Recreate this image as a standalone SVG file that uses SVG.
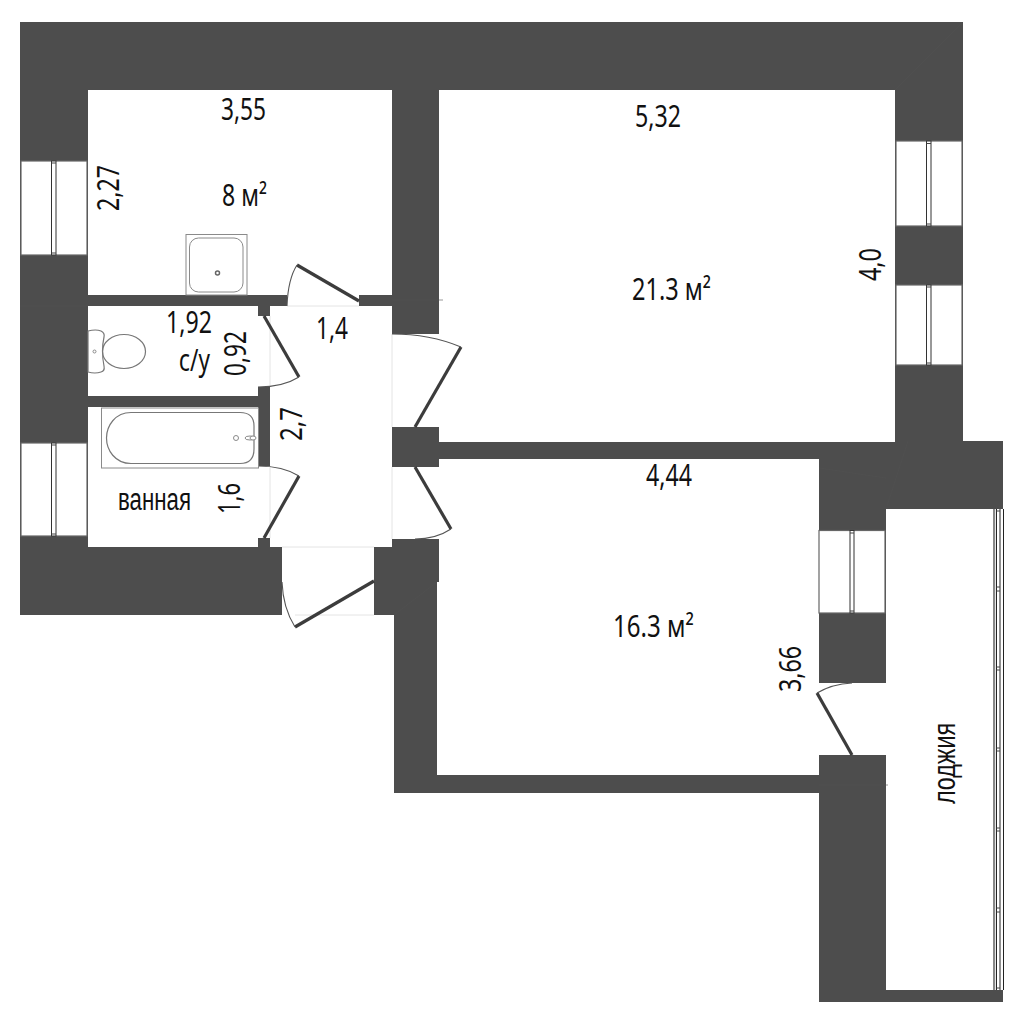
<svg xmlns="http://www.w3.org/2000/svg" width="1024" height="1024" viewBox="0 0 1024 1024">
<style>
.wall{fill:#4d4d4d}
.seam{fill:none;stroke:#505050;stroke-width:.6}
.win{fill:#fff;stroke:#666;stroke-width:1.2}
.mull{fill:#fff;stroke:#333;stroke-width:1}
.tick{fill:none;stroke:#444;stroke-width:1}
.thin{fill:none;stroke:#e4e4e4;stroke-width:1}
.leaf{fill:none;stroke:#3c3c3c;stroke-width:3.2}
.arc{fill:none;stroke:#555;stroke-width:1.1}
.fix{fill:#fff;stroke:#8a8a8a;stroke-width:1}
.fixd{fill:#fff;stroke:#777;stroke-width:1.2}
text{font-family:"Noto Sans","Open Sans",sans-serif;font-size:30px;fill:#111}
.sans{font-family:"Liberation Sans",Arial,sans-serif;font-size:31px}
</style>
<rect width="1024" height="1024" fill="#fff"/>
<g id="walls">
<path class="wall" d="M20 22H963V441H1003V509H886V683H819V530H819V459H439V442H895V90H439V334H392V90H88V295H287V306H270V316H258V306H88V396H258V387H270V466H258V407H88V547H258V538H270V547H282V615H20Z"/>
<rect class="wall" x="359" y="295" width="33" height="11"/>
<rect class="wall" x="392" y="427" width="47" height="40"/>
<path class="wall" d="M392 539H439V582H437V775H819V755H886V990H1003V1002H819V793H394V615H374V547H392Z"/>
</g>
<g id="seams">
<path class="seam" d="M392 300H443M819 785H888M20 306H88M895 90L962 23M819 468L886 478M886 509L908 441M394 615L437 582"/>
</g>
<g id="corridor-outline">
<path class="thin" d="M270 316V387M270 466V538M287 306H359M392 334V427M392 467V539M282 547H374M295 615H374"/>
</g>
<g id="windows">
<g id="window-left-1"><rect class="win" x="21" y="161" width="66" height="94"/><rect class="mull" x="51.5" y="161" width="4.5" height="94"/><path class="tick" d="M51.5 163H56M51.5 253H56"/></g>
<g id="window-left-2"><rect class="win" x="21" y="443" width="66" height="93"/><rect class="mull" x="51.5" y="443" width="4.5" height="93"/><path class="tick" d="M51.5 445H56M51.5 534H56"/></g>
<g id="window-right-1"><rect class="win" x="896" y="141" width="66" height="85"/><rect class="mull" x="926.5" y="141" width="4.5" height="85"/><path class="tick" d="M926.5 143.500H931M926.5 224H931"/></g>
<g id="window-right-2"><rect class="win" x="896" y="285" width="66" height="80"/><rect class="mull" x="926.5" y="285" width="4.500" height="80"/><path class="tick" d="M926.5 287H931M926.5 363H931"/></g>
<g id="window-room3"><rect class="win" x="819" y="530.500" width="66" height="82.500"/><rect class="mull" x="850" y="530.500" width="4" height="82.500"/><path class="tick" d="M850 533H854M850 611H854"/></g>
<g id="window-loggia">
<rect x="993" y="509" width="2.200" height="481" fill="#888"/>
<path fill="none" stroke="#222" stroke-width="1" d="M996.500 509V990M1000 509V990M1003.500 509V990"/>
<path class="tick" d="M996.500 511H1000M996.500 587H1000M996.500 591H1000M996.500 667H1000M996.500 670H1000M996.500 748H1000M996.500 751H1000M996.500 828H1000M996.500 831H1000M996.500 908H1000M996.500 912H1000M996.500 988H1000"/>
</g>
</g>
<g id="doors">
<g id="door-room1"><path class="leaf" d="M359 301L297 265"/><path class="arc" d="M297 265Q288 279 287 306"/></g>
<g id="door-wc"><path class="leaf" d="M264 316L299 377"/><path class="arc" d="M299 377Q283 387 258 387"/></g>
<g id="door-bath"><path class="leaf" d="M264 538L299 476"/><path class="arc" d="M299 476Q283 466 258 466"/></g>
<g id="door-room2"><path class="leaf" d="M415 427L461 347"/><path class="arc" d="M461 347Q430 334 392 334"/></g>
<g id="door-room3"><path class="leaf" d="M415 467L451 529"/><path class="arc" d="M451 529Q436 539 415 539"/></g>
<g id="door-entry"><path class="leaf" d="M374 581L295 627"/><path class="arc" d="M295 627Q283 608 282 582"/></g>
<g id="door-loggia"><path class="leaf" d="M852 755L817 693"/><path class="arc" d="M817 693Q832 684 852 683"/></g>
</g>
<g id="fixtures">
<g id="shower"><rect class="fix" x="186" y="234.500" width="61" height="60.500"/><rect class="fix" x="189.500" y="238" width="53.500" height="54" rx="9"/><circle cx="217.500" cy="273" r="2" fill="#fff" stroke="#666" stroke-width="1.500"/></g>
<g id="toilet"><ellipse class="fixd" cx="124" cy="351.500" rx="21.500" ry="17"/><path class="fixd" d="M88 331Q96 329 101 331Q105 333 104 337Q101 351 104 366Q105 371 101 372Q95 374 88 372Z"/><circle class="fix" cx="94.500" cy="351.500" r="1.500"/></g>
<g id="bath"><rect class="fix" x="101.500" y="408" width="157" height="60"/><path class="fixd" d="M131 412.500H240Q254 412.500 254 426V449Q254 463.500 240 463.500H131C115 463.500 106.500 450 106.500 438C106.500 426 115 412.500 131 412.500Z"/><circle class="fix" cx="236" cy="438" r="2.500"/><ellipse class="fix" cx="250" cy="438" rx="5" ry="2"/><ellipse class="fix" cx="253" cy="438" rx="3" ry="2"/></g>
</g>
<g id="labels">
<text x="221" y="120" textLength="45" lengthAdjust="spacingAndGlyphs">3,55</text>
<text x="222" y="206" textLength="45" lengthAdjust="spacingAndGlyphs">8 м²</text>
<text x="635" y="127" textLength="46" lengthAdjust="spacingAndGlyphs">5,32</text>
<text x="632" y="300" textLength="79" lengthAdjust="spacingAndGlyphs">21.3 м²</text>
<text x="646" y="486" textLength="46" lengthAdjust="spacingAndGlyphs">4,44</text>
<text x="613" y="637" textLength="81" lengthAdjust="spacingAndGlyphs">16.3 м²</text>
<text x="166" y="333" textLength="46" lengthAdjust="spacingAndGlyphs">1,92</text>
<text x="316" y="339" textLength="32" lengthAdjust="spacingAndGlyphs">1,4</text>
<text x="179" y="371" textLength="31" lengthAdjust="spacingAndGlyphs">с/у</text>
<text class="sans" x="118" y="510" textLength="73" lengthAdjust="spacingAndGlyphs">ванная</text>
<text transform="translate(119 211) rotate(-90)" textLength="46" lengthAdjust="spacingAndGlyphs">2,27</text>
<text transform="translate(246 376) rotate(-90)" textLength="45" lengthAdjust="spacingAndGlyphs">0,92</text>
<text transform="translate(302 441) rotate(-90)" textLength="34" lengthAdjust="spacingAndGlyphs">2,7</text>
<text transform="translate(240 514) rotate(-90)" textLength="31" lengthAdjust="spacingAndGlyphs">1,6</text>
<text transform="translate(881 281) rotate(-90)" textLength="33" lengthAdjust="spacingAndGlyphs">4,0</text>
<text transform="translate(801 692) rotate(-90)" textLength="46" lengthAdjust="spacingAndGlyphs">3,66</text>
<text class="sans" transform="translate(955 804) rotate(-90)" textLength="81" lengthAdjust="spacingAndGlyphs">лоджия</text>
</g>
</svg>
